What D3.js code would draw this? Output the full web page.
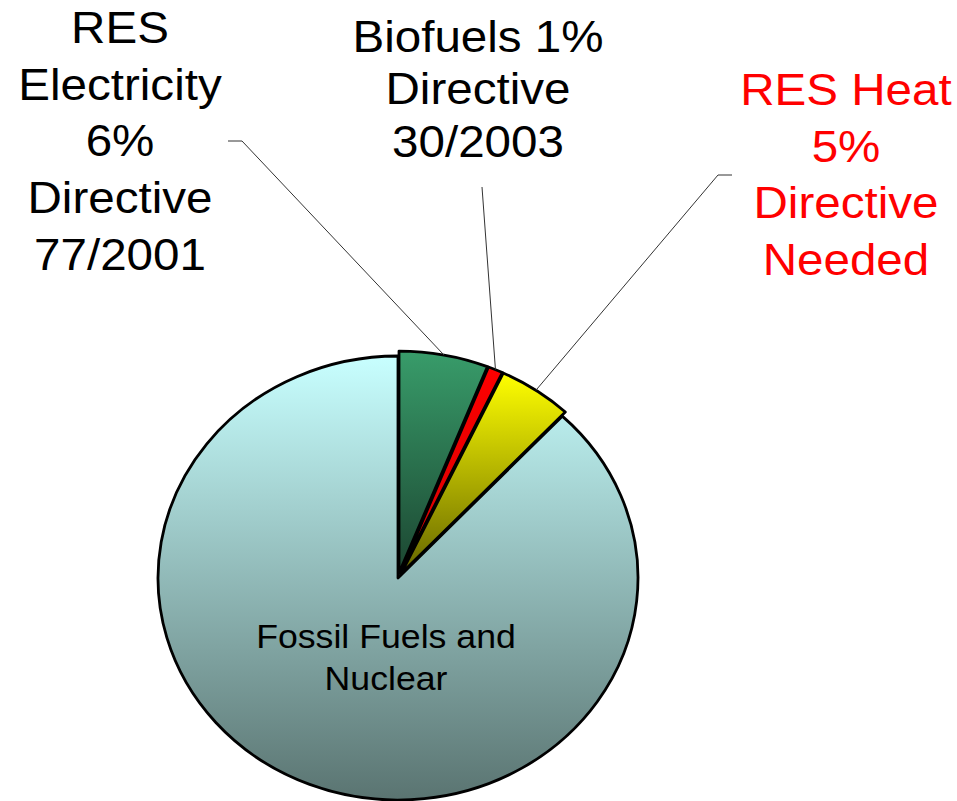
<!DOCTYPE html>
<html>
<head>
<meta charset="utf-8">
<script src="https://cdn.jsdelivr.net/npm/d3@7"></script>
<style>
  body { margin: 0; background: #fff; }
  svg { display: block; font-family: "Liberation Sans", Arial, sans-serif; }
</style>
</head>
<body>
<svg id="chart"></svg>
<script>
// chart data
const categories = ["RES Electricity", "Biofuels", "RES Heat", "Fossil Fuels and Nuclear"];
const shares = [6, 1, 5, 88];
const labelLines = [
    ["RES", "Electricity", "6%", "Directive", "77/2001"],
    ["Biofuels 1%", "Directive", "30/2003"],
    ["RES Heat", "5%", "Directive", "Needed"],
    ["Fossil Fuels and", "Nuclear"]
];
const labelColors = ["#000000", "#000000", "#ff0000", "#000000"];
const sliceTop = ["#389c6a", "#ff0000", "#ffff00", "#c8ffff"];
const sliceBottom = ["#1c4631", "#d00000", "#666600", "#5a7471"];

const width = 957, height = 801;
const cx = 398, cy = 578, r = 222, sx = 1.081;
const explode = [5, 5, 5, 0];

// label placement (screen coords): centre x, first baseline, line step, font size
const labelPos = [
    { x: 120, y: 43, step: 56.7, size: 44 },
    { x: 478, y: 52, step: 52.5, size: 44 },
    { x: 846, y: 105, step: 56.7, size: 44 },
    { x: 386, y: 648, step: 42, size: 33 }
];
// leader anchors near labels (screen coords); null = no leader
const leaderStart = [
    [[228, 141], [242, 141]],
    [[482, 187]],
    [[732, 175], [718, 175]],
    null
];

const svg = d3.select("#chart").attr("width", width).attr("height", height);
const defs = svg.append("defs");

categories.forEach((c, i) => {
    const g = defs.append("linearGradient")
        .attr("id", "grad" + i)
        .attr("x1", 0).attr("y1", 0).attr("x2", 0).attr("y2", 1);
    g.append("stop").attr("offset", "0%").attr("stop-color", sliceTop[i]);
    g.append("stop").attr("offset", "100%").attr("stop-color", sliceBottom[i]);
});

const pie = d3.pie().sort(null).value(d => d);
const arcs = pie(shares);
const arc = d3.arc().innerRadius(0).outerRadius(r);
const edge = d3.arc().innerRadius(r).outerRadius(r);

const pieG = svg.append("g")
    .attr("transform", `translate(${cx},${cy}) scale(${sx},1)`);

function offset(d, i) {
    const a = (d.startAngle + d.endAngle) / 2;
    return [Math.sin(a) * explode[i], -Math.cos(a) * explode[i]];
}

// draw the big slice first so the small ones sit on top
const order = [3, 0, 1, 2];
pieG.selectAll("path.slice")
    .data(order)
    .join("path")
    .attr("class", "slice")
    .attr("transform", i => {
        const o = offset(arcs[i], i);
        return `translate(${o[0]},${o[1]})`;
    })
    .attr("d", i => arc(arcs[i]))
    .attr("fill", i => `url(#grad${i})`)
    .attr("stroke", "#000")
    .attr("stroke-width", 2.8)
    .attr("vector-effect", "non-scaling-stroke")
    .attr("stroke-linejoin", "round");

// leader lines
arcs.forEach((d, i) => {
    if (!leaderStart[i]) return;
    const p = edge.centroid(d);
    const o = offset(d, i);
    const end = [cx + (p[0] + o[0]) * sx, cy + p[1] + o[1]];
    const pts = leaderStart[i].concat([end]);
    svg.append("path")
        .attr("d", d3.line()(pts))
        .attr("fill", "none")
        .attr("stroke", "#333")
        .attr("stroke-width", 1);
});

// labels, stretched horizontally like the pie
const textG = svg.append("g").attr("transform", `scale(${sx},1)`);
labelLines.forEach((lines, i) => {
    const pos = labelPos[i];
    const t = textG.append("text")
        .attr("text-anchor", "middle")
        .attr("font-size", pos.size + "px")
        .attr("fill", labelColors[i]);
    lines.forEach((line, j) => {
        t.append("tspan")
            .attr("x", pos.x / sx)
            .attr("y", pos.y + j * pos.step)
            .text(line);
    });
});
</script>
</body>
</html>
